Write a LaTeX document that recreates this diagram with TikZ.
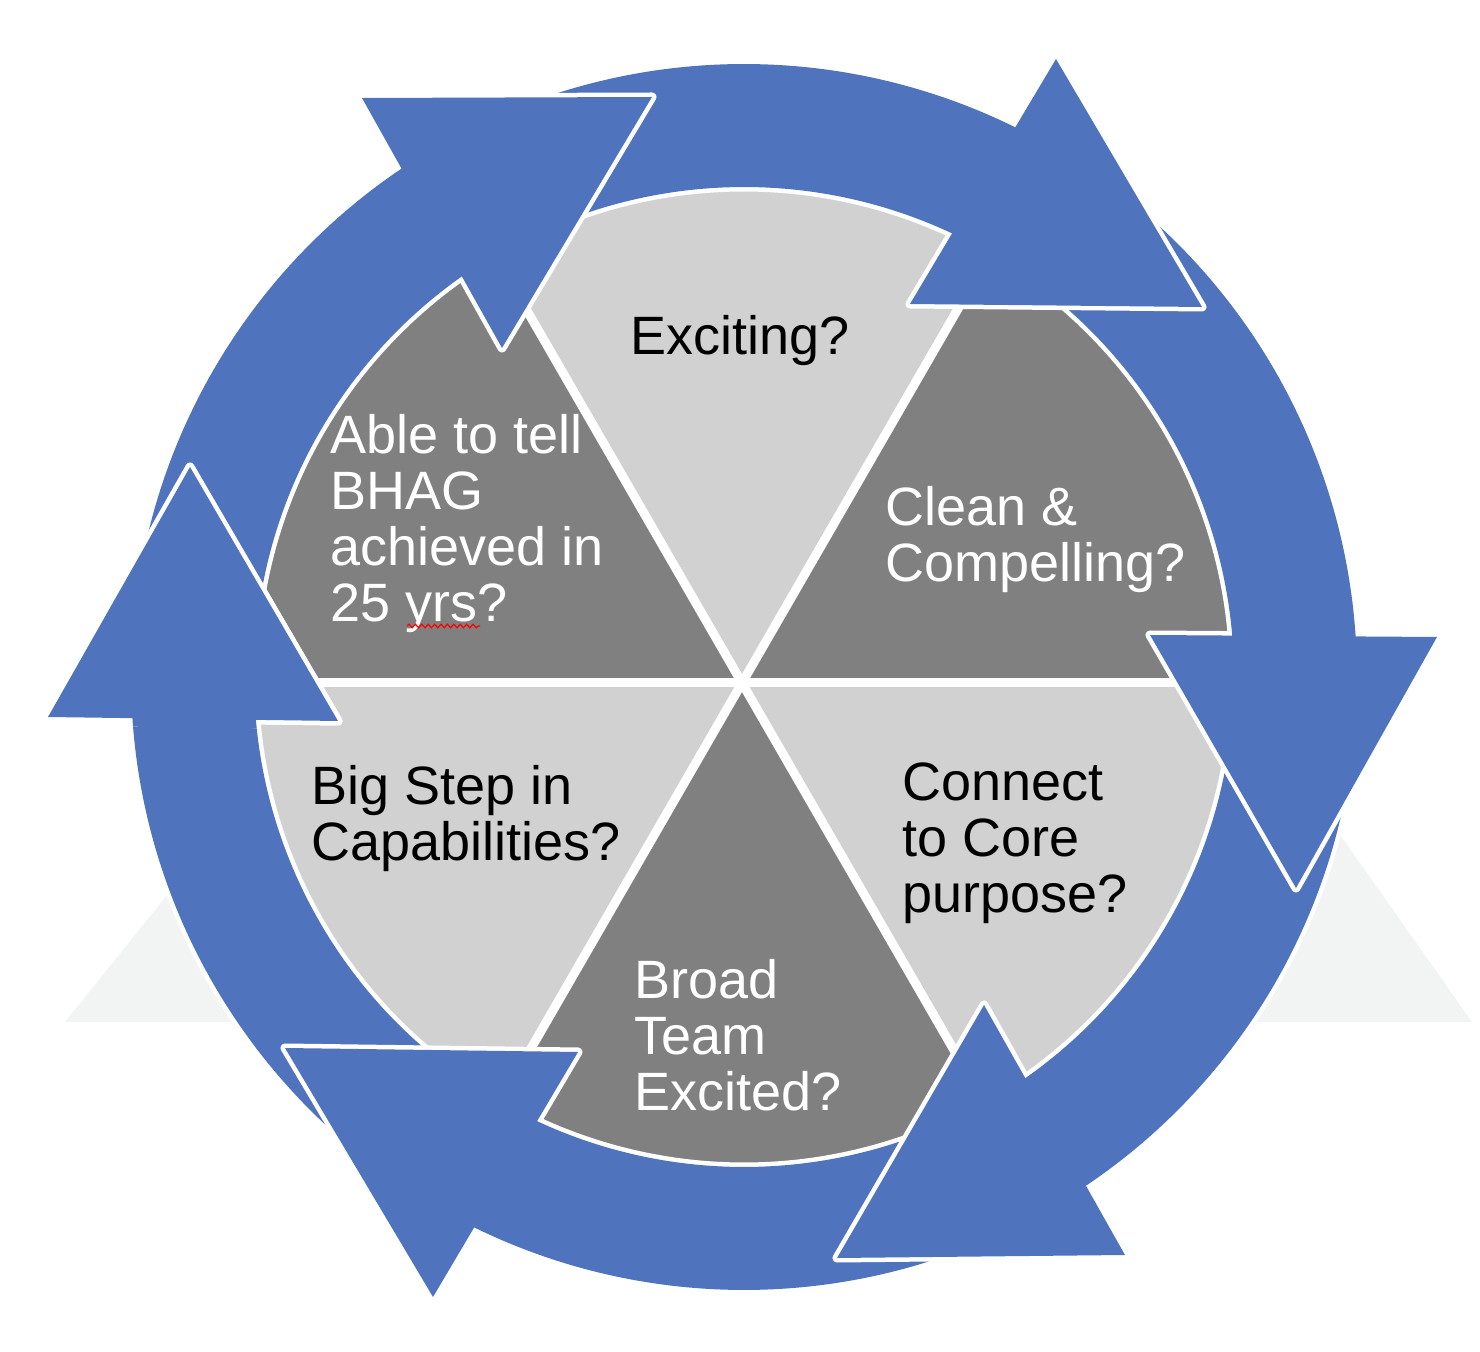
\documentclass[tikz,border=0pt]{standalone}
\usepackage{fontspec}
\setmainfont{Liberation Sans}
\usetikzlibrary{calc,decorations.pathmorphing}
\definecolor{ringblue}{RGB}{79,115,189}
\definecolor{darkwedge}{RGB}{128,128,128}
\definecolor{lightwedge}{RGB}{209,209,209}
\definecolor{bgtri}{RGB}{242,244,244}
\newcommand\cellstack[1]{\begin{tabular}[t]{@{}l@{}}#1\end{tabular}}
\tikzset{
  lbl/.style={inner sep=0pt, anchor=base west, font=\fontsize{27}{27.8}\selectfont},
  edgeline/.style={draw=white, line width=4.5pt, line join=round},
  ringfill/.style={fill=ringblue},
  seam/.style={white, line width=4.5pt},
}
% #1 start angle, #2 end angle, #3-#5 head vertices
\newcommand\ringarrow[5]{%
  \path[edgeline] ($(C)+(#1:613)$) arc[start angle=#1, end angle=#2, radius=613]
     -- ($(C)+(#2:490)$) arc[start angle=#2, end angle=#1, radius=490] -- cycle;
  \path[edgeline] (#3) -- (#4) -- (#5) -- cycle;
  \path[ringfill] ($(C)+(#1:613)$) arc[start angle=#1, end angle=#2, radius=613]
     -- ($(C)+(#2:490)$) arc[start angle=#2, end angle=#1, radius=490] -- cycle;
  \path[ringfill] (#3) -- (#4) -- (#5) -- cycle;
}
\begin{document}
\begin{tikzpicture}[x=0.5pt,y=-0.5pt]
\useasboundingbox (0,0) rectangle (1480,1352);
\fill[white] (0,0) rectangle (1480,1352);

% faint background triangle
\fill[bgtri] (65,1022) -- (1472,1022) -- (815,90) -- cycle;

% centres
\coordinate (C) at (744,677);
\coordinate (P) at (742,683);

% pie wedges
\fill[darkwedge]  (P) -- ($(P)+(0:500)$)    arc[start angle=0,    end angle=-60,  radius=500] -- cycle;
\fill[lightwedge] (P) -- ($(P)+(-60:500)$)  arc[start angle=-60,  end angle=-120, radius=500] -- cycle;
\fill[darkwedge]  (P) -- ($(P)+(-120:500)$) arc[start angle=-120, end angle=-180, radius=500] -- cycle;
\fill[lightwedge] (P) -- ($(P)+(-180:500)$) arc[start angle=-180, end angle=-240, radius=500] -- cycle;
\fill[darkwedge]  (P) -- ($(P)+(-240:500)$) arc[start angle=-240, end angle=-300, radius=500] -- cycle;
\fill[lightwedge] (P) -- ($(P)+(-300:500)$) arc[start angle=-300, end angle=-360, radius=500] -- cycle;
\draw[seam] ($(P)+(0:500)$) -- ($(P)+(180:500)$);
\draw[seam] ($(P)+(60:500)$) -- ($(P)+(240:500)$);
\draw[seam] ($(P)+(120:500)$) -- ($(P)+(300:500)$);

% arrow heads
\coordinate (h1a) at (362,98);   \coordinate (h1b) at (652,97);   \coordinate (h1c) at (502,348);
\coordinate (h2a) at (1056,59);  \coordinate (h2b) at (1202,307); \coordinate (h2c) at (910,304);
\coordinate (h3a) at (1150,635); \coordinate (h3b) at (1437,637); \coordinate (h3c) at (1296,888);
\coordinate (h4a) at (984,1005); \coordinate (h4b) at (1125,1255);\coordinate (h4c) at (837,1258);
\coordinate (h5a) at (578,1052); \coordinate (h5b) at (433,1297); \coordinate (h5c) at (285,1048);
\coordinate (h6a) at (48,717);   \coordinate (h6b) at (338,721);  \coordinate (h6c) at (190,467);

% circular arrows (clockwise)
\ringarrow{124.5}{184.5}{h6a}{h6b}{h6c}
\ringarrow{64.5}{124.5}{h5a}{h5b}{h5c}
\ringarrow{4.5}{64.5}{h4a}{h4b}{h4c}
\ringarrow{-55.5}{4.5}{h3a}{h3b}{h3c}
\ringarrow{-115.5}{-55.5}{h2a}{h2b}{h2c}
\ringarrow{-175.5}{-115.5}{h1a}{h1b}{h1c}
\begin{scope}
  \clip (33.6,725.2) -- (352.6,729.6) -- (189.8,450.2) -- cycle;
  \ringarrow{124.5}{184.5}{h6a}{h6b}{h6c}
\end{scope}

% labels
\node[lbl] (t1) at (630,355) {Exciting?};
\node[lbl,text=white] (t2) at (885,526) {\cellstack{Clean \&\\Compelling?}};
\node[lbl] (t3) at (902,801) {\cellstack{Connect\\to Core\\purpose?}};
\node[lbl,text=white] (t4) at (634,999) {\cellstack{Broad\\Team\\Excited?}};
\node[lbl] (t5) at (311,805) {\cellstack{Big Step in\\Capabilities?}};
\node[lbl,text=white] (t6) at (330,454) {\cellstack{Able to tell\\BHAG\\achieved in\\25 yrs?}};

\coordinate (sq1) at (407,626);
\coordinate (sq2) at (480,626);
\draw[red, line width=0.6pt, decorate, decoration={snake, amplitude=0.9pt, segment length=3.2pt}] (sq1) -- (sq2);
\end{tikzpicture}
\end{document}
